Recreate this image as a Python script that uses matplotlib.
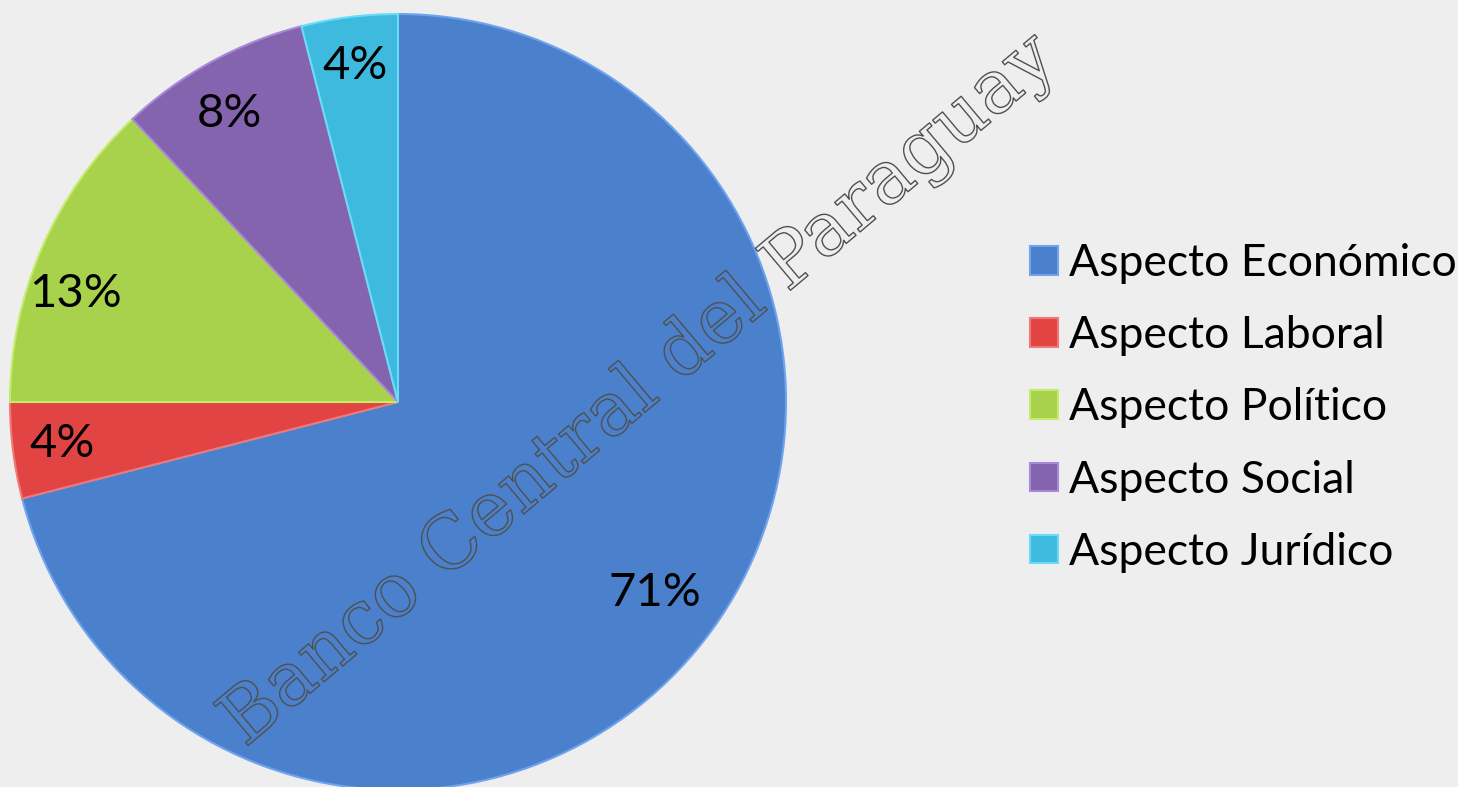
import numpy as np
import matplotlib
matplotlib.use("Agg")
import matplotlib.pyplot as plt
import matplotlib.patheffects as pe

# Data
aspectos = ["Aspecto Económico", "Aspecto Laboral", "Aspecto Político",
            "Aspecto Social", "Aspecto Jurídico"]
porcentajes = [71, 4, 13, 8, 4]

colores = ["#4A80CC", "#E24444", "#A8D24C", "#8464AE", "#3EBADE"]
bordes = ["#6FA3EE", "#F07878", "#C4EC6A", "#A888D8", "#6ADCF8"]
# label placement: radial distance and angle shift (deg) from wedge middle
dist_etiqueta = [0.825, 0.873, 0.877, 0.859, 0.873]
giro_etiqueta = [1.2, 0.0, 4.9, 1.5, 0.0]

plt.rcParams['font.family'] = ['Lato', 'DejaVu Sans']

fig = plt.figure(figsize=(14.58, 7.87), dpi=100)
fig.patch.set_facecolor('#EEEEEE')

# pie axes placed in pixels: x 10..786, y 14..790
W, H = 1458, 787
ax = fig.add_axes([10 / W, (H - 790) / H, 776 / W, 776 / H])
ax.set_facecolor('none')

wedges, _ = ax.pie(porcentajes, colors=colores, startangle=90, counterclock=False,
                   radius=1.0, wedgeprops=dict(linewidth=1.5))
for w, b in zip(wedges, bordes):
    w.set_edgecolor(b)

for w, p, d, g in zip(wedges, porcentajes, dist_etiqueta, giro_etiqueta):
    mid = np.deg2rad((w.theta1 + w.theta2) / 2 + g)
    ax.text(d * np.cos(mid), d * np.sin(mid), f"{p}%", ha='center', va='center',
            fontsize=34, color='black')

ax.set_xlim(-1, 1)
ax.set_ylim(-1, 1)
ax.set_aspect('equal')
ax.axis('off')

# legend
leg = fig.legend(wedges, aspectos, loc='center left',
                 bbox_to_anchor=(1030 / W, 1 - 408 / H), frameon=False,
                 fontsize=32, handlelength=0.62, handleheight=0.62,
                 handletextpad=0.25, labelspacing=0.7, borderpad=0,
                 borderaxespad=0)

# watermark
fig.text(245 / W, 1 - 748 / H, "Banco Central del Paraguay", rotation=40,
         rotation_mode='anchor', ha='left', va='baseline', fontsize=54,
         family='DejaVu Serif', color=(1, 1, 1, 0),
         path_effects=[pe.Stroke(linewidth=1.0, foreground='#505050'), pe.Normal()])

fig.savefig("out.png", dpi=100, facecolor=fig.get_facecolor())
